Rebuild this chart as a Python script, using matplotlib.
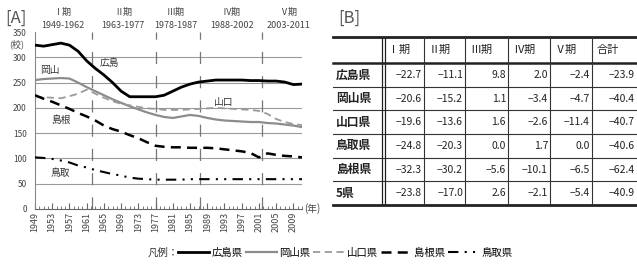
import numpy as np
import matplotlib
matplotlib.use("Agg")
import matplotlib.pyplot as plt
from matplotlib.lines import Line2D

plt.rcParams['font.family'] = ['Noto Sans CJK JP', 'DejaVu Sans']

# --- [A] number of schools, every 2 years ---
years = list(range(1949, 2012, 2))
hiroshima = [324, 322, 325, 328, 324, 312, 293, 278, 265, 250, 233, 222, 222, 222, 222, 225,
             233, 241, 247, 251, 253, 255, 255, 255, 255, 254, 254, 253, 253, 251, 246, 247]
okayama = [255, 257, 258, 259, 258, 250, 241, 233, 225, 217, 210, 203, 197, 191, 186, 182,
           180, 183, 186, 184, 180, 177, 175, 174, 173, 172, 172, 170, 169, 167, 165, 162]
yamaguchi = [222, 221, 220, 219, 223, 228, 236, 228, 220, 213, 208, 205, 202, 199, 198, 196,
             196, 196, 197, 198, 199, 200, 199, 198, 197, 196, 194, 188, 178, 172, 168, 166]
shimane = [225, 218, 212, 205, 198, 190, 183, 175, 165, 158, 153, 146, 140, 132, 125, 123,
           122, 122, 121, 121, 121, 120, 118, 116, 114, 111, 102, 110, 107, 105, 104, 102]
tottori = [102, 101, 99, 96, 92, 86, 82, 77, 73, 69, 66, 62, 60, 59, 58, 58,
           58, 58, 59, 59, 59, 59, 59, 59, 59, 59, 59, 59, 59, 59, 59, 59]

period_names = ["Ⅰ期", "Ⅱ期", "Ⅲ期", "Ⅳ期", "Ⅴ期"]
period_ranges = ["1949-1962", "1963-1977", "1978-1987", "1988-2002", "2003-2011"]
period_centers = [1955.5, 1969.4, 1981.7, 1994.7, 2007.8]
period_edges = [1962.3, 1977.2, 1987.3, 2001.7]

# --- [B] change rates (%) ---
col_labels = ["Ⅰ期", "Ⅱ期", "Ⅲ期", "Ⅳ期", "Ⅴ期", "合計"]
row_labels = ["広島県", "岡山県", "山口県", "鳥取県", "島根県", "5県"]
rates = [
    ["−22.7", "−11.1", "9.8", "2.0", "−2.4", "−23.9"],
    ["−20.6", "−15.2", "1.1", "−3.4", "−4.7", "−40.4"],
    ["−19.6", "−13.6", "1.6", "−2.6", "−11.4", "−40.7"],
    ["−24.8", "−20.3", "0.0", "1.7", "0.0", "−40.6"],
    ["−32.3", "−30.2", "−5.6", "−10.1", "−6.5", "−62.4"],
    ["−23.8", "−17.0", "2.6", "−2.1", "−5.4", "−40.9"],
]

fig = plt.figure(figsize=(6.37, 2.70), dpi=100)
W, H = 637, 270

# ---------------- chart A ----------------
ax = fig.add_axes([35 / W, 61 / H, 267 / W, 177 / H])
ax.set_xlim(1949, 2011)
ax.set_ylim(0, 350)

for y in range(50, 301, 50):
    ax.axhline(y, color="#9a9a9a", lw=0.8, zorder=1)
ax.vlines(period_edges, 0, 350, colors="#777777", lw=0.9,
          linestyles=(0, (9.7, 9.7)), zorder=1)

ax.plot(years, hiroshima, color="black", lw=2.0, zorder=4)
ax.plot(years, okayama, color="#8c8c8c", lw=1.6, zorder=3)
ax.plot(years, yamaguchi, color="#9a9a9a", lw=1.3, ls=(0, (4, 2.5)), zorder=3)
ax.plot(years, shimane, color="black", lw=1.8, ls=(0, (4, 2.5)), zorder=3)
ax.plot(years, tottori, color="black", lw=1.5, ls=(0, (5, 3, 1, 3, 1, 3)), zorder=3)

for name, yr, val in [("岡山", 1952.5, 275), ("広島", 1966.2, 289), ("山口", 1992.9, 211),
                      ("島根", 1955.0, 176), ("鳥取", 1954.8, 71)]:
    ax.text(yr, val, name, fontsize=7, ha="center", va="center", color="#333333",
            zorder=5)

for c, nm, rg in zip(period_centers, period_names, period_ranges):
    ax.text(c, 388, nm, fontsize=6.5, ha="center", va="center", color="#444444",
            clip_on=False)
    ax.text(c, 362, rg, fontsize=6.5, ha="center", va="center", color="#444444",
            clip_on=False)

ax.set_yticks(range(0, 351, 50))
ax.set_yticklabels([str(v) for v in range(0, 351, 50)], fontsize=6, color="#444444")
ax.set_xticks(range(1949, 2012, 4))
ax.set_xticklabels([str(v) for v in range(1949, 2012, 4)], rotation=90, fontsize=6.5,
                   color="#444444")
ax.set_xticks(range(1949, 2012), minor=True)
ax.tick_params(axis="x", which="major", direction="in", length=4, pad=2, color="#666666")
ax.tick_params(axis="x", which="minor", direction="in", length=2, color="#666666")
ax.tick_params(axis="y", length=0, pad=6)
for s in ["top", "right"]:
    ax.spines[s].set_visible(False)
ax.spines["left"].set_color("#888888")
ax.spines["bottom"].set_color("#666666")
ax.text(-0.07, 325, "(校)", transform=ax.get_yaxis_transform(), fontsize=6.5,
        ha="center", va="center", color="#444444")
ax.text(2011.6, 0, "(年)", fontsize=7, ha="left", va="center", color="#444444",
        clip_on=False)
fig.text(5 / W, 1 - 18 / H, "[A]", fontsize=12, color="#555555", va="center")

# ---------------- table B ----------------
fig.text(338 / W, 1 - 18 / H, "[B]", fontsize=12, color="#555555", va="center")
tb = fig.add_axes([333 / W, 65 / H, 304 / W, 168 / H])
tb.set_xlim(0, 304)
tb.set_ylim(168, 0)
tb.axis("off")

col_edges = [0, 50, 91, 132, 175, 217, 259, 304]
row_edges = [0, 26] + [26 + 23.67 * (i + 1) for i in range(6)]

tb.plot([0, 304], [0, 0], color="#222222", lw=2.0, clip_on=False)
tb.plot([0, 304], [26, 26], color="#222222", lw=1.8, clip_on=False)
tb.plot([0, 304], [168, 168], color="#222222", lw=2.0, clip_on=False)
for y in row_edges[2:-1]:
    tb.plot([0, 304], [y, y], color="#333333", lw=0.8)
tb.plot([49, 49], [0, 168], color="#222222", lw=0.9)
tb.plot([51.5, 51.5], [0, 168], color="#222222", lw=0.9)
for x in col_edges[2:-1]:
    tb.plot([x, x], [0, 168], color="#333333", lw=0.8)

for j, lab in enumerate(col_labels):
    tb.text(col_edges[j + 1] + 5, 13, lab, fontsize=8, ha="left", va="center",
            color="#222222")
for i, (rl, vals) in enumerate(zip(row_labels, rates)):
    yc = (row_edges[i + 1] + row_edges[i + 2]) / 2
    tb.text(3, yc, rl, fontsize=8.5, fontweight="bold", ha="left", va="center",
            color="#222222")
    for j, v in enumerate(vals):
        tb.text(col_edges[j + 2] - 2, yc, v, fontsize=7.5, ha="right", va="center",
                color="#222222")

# ---------------- legend ----------------
fig.text(148 / W, 1 - 253 / H, "凡例：", fontsize=7.5, va="center", color="#333333")
handles = [
    Line2D([], [], color="black", lw=2.0),
    Line2D([], [], color="#8c8c8c", lw=1.6),
    Line2D([], [], color="#9a9a9a", lw=1.3, ls=(0, (4, 2.5))),
    Line2D([], [], color="black", lw=1.8, ls=(0, (4, 2.5))),
    Line2D([], [], color="black", lw=1.5, ls=(0, (5, 3, 1, 3, 1, 3))),
]
fig.legend(handles, ["広島県", "岡山県", "山口県", "島根県", "鳥取県"], ncol=5,
           loc="center left", bbox_to_anchor=(178 / W, 1 - 253 / H), frameon=False,
           fontsize=7.5, handlelength=3.0, handletextpad=0.2, columnspacing=0.3,
           borderpad=0, borderaxespad=0)

fig.savefig("out.png", dpi=100)
